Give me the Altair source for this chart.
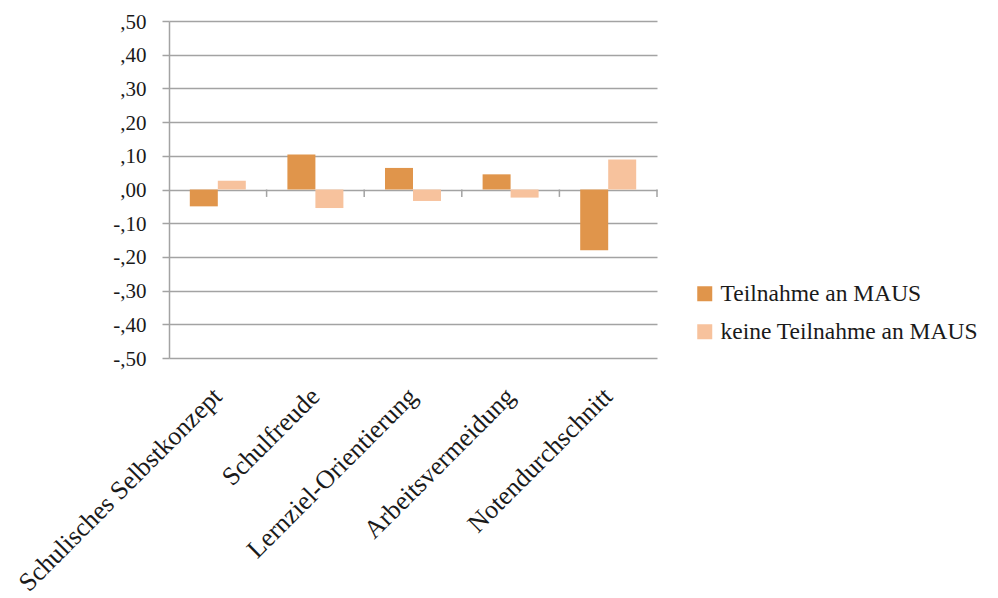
import altair as alt
import pandas as pd

# Kategorien und Mittelwerte der beiden Gruppen
kategorien = [
    "Schulisches Selbstkonzept",
    "Schulfreude",
    "Lernziel-Orientierung",
    "Arbeitsvermeidung",
    "Notendurchschnitt",
]
gruppen = ["Teilnahme an MAUS", "keine Teilnahme an MAUS"]
teilnahme = [-0.05, 0.104, 0.064, 0.045, -0.18]
keine_teilnahme = [0.026, -0.055, -0.034, -0.024, 0.089]
y_ticks = [-0.5, -0.4, -0.3, -0.2, -0.1, 0.0, 0.1, 0.2, 0.3, 0.4, 0.5]

farben = ["#E0954B", "#F7C29D"]
grau = "#A3A3A3"
schrift = "Liberation Serif"

rows = []
for k, a, b in zip(kategorien, teilnahme, keine_teilnahme):
    rows.append({"Kategorie": k, "Gruppe": gruppen[0], "Wert": a})
    rows.append({"Kategorie": k, "Gruppe": gruppen[1], "Wert": b})
df = pd.DataFrame(rows)
df_kat = pd.DataFrame({"Kategorie": kategorien})

x_scale = alt.Scale(domain=kategorien, paddingInner=0, paddingOuter=0)
y_scale = alt.Scale(domain=[-0.5, 0.5], nice=False)

x_axis = alt.Axis(
    title=None,
    domain=False,
    ticks=False,
    grid=False,
    labelAngle=-45,
    labelAlign="right",
    labelBaseline="middle",
    labelPadding=34,
    labelFont=schrift,
    labelFontSize=26,
    labelColor="#1a1a1a",
    labelLimit=400,
)
y_axis = alt.Axis(
    title=None,
    values=y_ticks,
    labelExpr="replace(replace(format(datum.value, '.2f'), '0.', ','), '\u2212', '-')",
    labelOverlap=False,
    domain=True,
    domainColor=grau,
    domainWidth=1.5,
    ticks=True,
    tickSize=7,
    tickColor=grau,
    tickWidth=1.5,
    grid=True,
    gridColor=grau,
    gridWidth=1.5,
    labelFont=schrift,
    labelFontSize=21,
    labelColor="#1a1a1a",
    labelPadding=16,
    labelOffset=1,
)

bars = (
    alt.Chart(df)
    .mark_bar()
    .encode(
        x=alt.X("Kategorie:N", scale=x_scale, axis=x_axis, sort=kategorien),
        xOffset=alt.XOffset(
            "Gruppe:N",
            sort=gruppen,
            scale=alt.Scale(domain=gruppen, paddingInner=0, paddingOuter=0.743),
        ),
        y=alt.Y("Wert:Q", scale=y_scale, axis=y_axis),
        color=alt.Color(
            "Gruppe:N",
            scale=alt.Scale(domain=gruppen, range=farben),
            legend=alt.Legend(
                title=None,
                orient="none",
                legendX=524,
                legendY=261,
                symbolType="square",
                symbolSize=225,
                symbolStrokeWidth=0,
                symbolOpacity=1,
                labelFont=schrift,
                labelFontSize=23.5,
                labelColor="#1a1a1a",
                labelOffset=4,
                rowPadding=13,
                labelLimit=400,
            ),
        ),
    )
)

# Trennstriche zwischen den Kategorien an der Nulllinie
trenner = (
    alt.Chart(df_kat)
    .mark_rule(color=grau, strokeWidth=1.5)
    .encode(
        x=alt.X("Kategorie:N", scale=x_scale, bandPosition=1, sort=kategorien, axis=x_axis),
        y=alt.Y(datum=0.0, scale=y_scale, axis=y_axis),
        y2=alt.datum(-0.022),
    )
)

chart = (
    alt.layer(bars, trenner)
    .properties(
        width=488,
        height=337,
        autosize=alt.AutoSizeParams(type="none"),
        padding={"left": 169, "top": 21, "right": 341, "bottom": 240},
        background="white",
    )
    .configure(font=schrift)
    .configure_view(stroke=None)
    .configure_legend(labelFont=schrift, labelFontSize=23.5, labelColor="#1a1a1a")
)

chart.save("out.html", embed_options={"renderer": "svg", "actions": False})
